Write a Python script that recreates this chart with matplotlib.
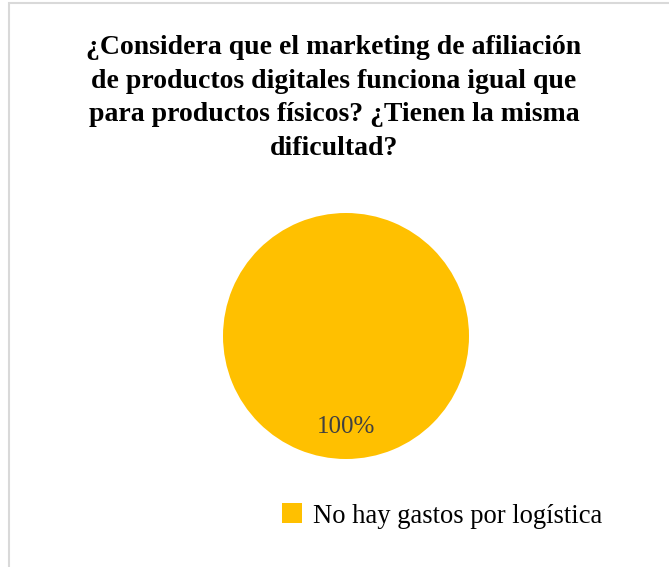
import matplotlib.pyplot as plt
from matplotlib.patches import Rectangle

title = ("¿Considera que el marketing de afiliación\n"
         "de productos digitales funciona igual que\n"
         "para productos físicos? ¿Tienen la misma\n"
         "dificultad?")
labels = ["No hay gastos por logística"]
values = [100]
colors = ["#FFC000"]

W, H = 669, 567
plt.rcParams["font.family"] = ["Liberation Serif", "DejaVu Serif"]
fig = plt.figure(figsize=(W / 100, H / 100), dpi=100)

# chart area frame
fig.patches.append(Rectangle((9 / W, -0.01), 1.0, 1 - 3 / H + 0.01, transform=fig.transFigure,
                             fill=False, edgecolor="#d9d9d9", linewidth=1.5))

fig.text(334 / W, 1 - 35 / H, title, ha="center", va="top", fontsize=20,
         fontweight="bold", linespacing=1.45)

r = 123
ax = fig.add_axes([(346 - r) / W, 1 - (336 + r) / H, 2 * r / W, 2 * r / H])
wedges, texts = ax.pie(values, colors=colors, startangle=90, counterclock=False,
                       radius=1.0, wedgeprops=dict(linewidth=0))
ax.set_xlim(-1, 1)
ax.set_ylim(-1, 1)
total = sum(values)
ax.text(0, -0.74, "{:.0f}%".format(values[0] / total * 100), ha="center", va="center",
        fontsize=18, color="#404040")
ax.set_aspect("equal")
ax.axis("off")

fig.legend(wedges, labels, loc="center left", bbox_to_anchor=(282 / W, 1 - 516 / H),
           frameon=False, fontsize=19.2, handlelength=0.75, handleheight=0.75,
           handletextpad=0.42, borderpad=0, borderaxespad=0)

fig.savefig("out.png", dpi=100)
